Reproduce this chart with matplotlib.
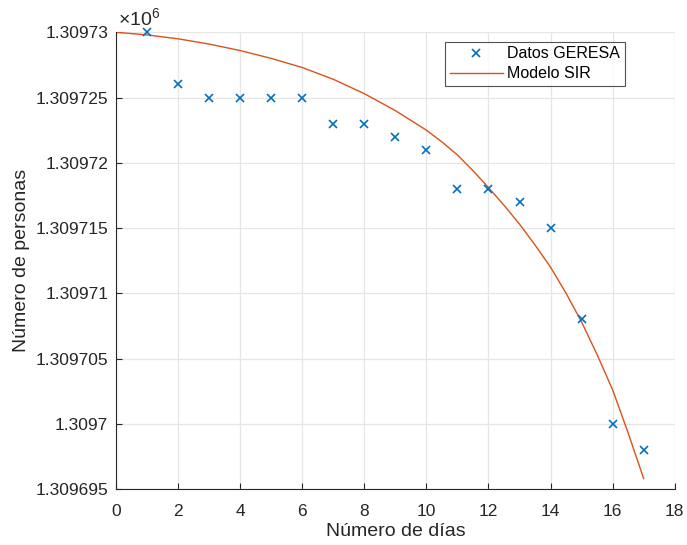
import matplotlib
matplotlib.use("Agg")
import matplotlib.pyplot as plt
from matplotlib.ticker import FuncFormatter, MultipleLocator

plt.rcParams['font.family'] = ['Liberation Sans', 'DejaVu Sans']
plt.rcParams['mathtext.fontset'] = 'custom'
plt.rcParams['mathtext.rm'] = 'Liberation Sans'

# Observed susceptible population (GERESA)
dias = [1, 2, 3, 4, 5, 6, 7, 8, 9, 10, 11, 12, 13, 14, 15, 16, 17]
datos_geresa = [1309730, 1309726, 1309725, 1309725, 1309725, 1309725,
                1309723, 1309723, 1309722, 1309721, 1309718, 1309718,
                1309717, 1309715, 1309708, 1309700, 1309698]

# SIR model susceptible curve
t_modelo = [0, 0.5, 1, 1.5, 2, 2.5, 3, 3.5, 4, 4.5, 5, 5.5, 6, 6.5, 7, 7.5,
            8, 8.5, 9, 9.5, 10, 10.5, 11, 11.5, 12, 12.5, 13, 13.5, 14, 14.5,
            15, 15.5, 16, 16.5, 17]
s_modelo = [1309730.0, 1309729.9, 1309729.8, 1309729.65, 1309729.5, 1309729.3,
            1309729.1, 1309728.85, 1309728.6, 1309728.3, 1309728.0, 1309727.65,
            1309727.3, 1309726.85, 1309726.4, 1309725.85, 1309725.3, 1309724.65,
            1309724.0, 1309723.25, 1309722.5, 1309721.6, 1309720.6, 1309719.4,
            1309718.1, 1309716.75, 1309715.3, 1309713.7, 1309712.0, 1309710.0,
            1309707.8, 1309705.3, 1309702.6, 1309699.3, 1309695.8]

azul = '#0072BD'
naranja = '#D95319'
gris_ejes = '#262626'

fig = plt.figure(figsize=(6.87, 5.45), dpi=100)
ax = fig.add_axes([116 / 687, 1 - 489 / 545, (674.7 - 116) / 687, (489 - 32.3) / 545])

ax.plot(dias, datos_geresa, linestyle='none', marker='x', color=azul,
        markersize=6, markeredgewidth=1.2, label='Datos GERESA', clip_on=False,
        zorder=3)
ax.plot(t_modelo, s_modelo, color=naranja, linewidth=1.0, label='Modelo SIR',
        zorder=2)

ax.set_xlim(0, 18)
ax.set_ylim(1309695, 1309730)
ax.xaxis.set_major_locator(MultipleLocator(2))
ax.yaxis.set_major_locator(MultipleLocator(5))
ax.yaxis.set_major_formatter(FuncFormatter(lambda v, p: '%.7g' % (v / 1e6)))

ax.grid(True, color='#e6e6e6', linewidth=0.9)
ax.set_axisbelow(True)
for s in ('top', 'right'):
    ax.spines[s].set_visible(False)
for s in ('left', 'bottom'):
    ax.spines[s].set_color(gris_ejes)
    ax.spines[s].set_linewidth(0.8)
ax.tick_params(direction='in', length=4, width=0.8, colors=gris_ejes,
               labelsize=12.5)
ax.tick_params(axis='y', pad=5.5)
ax.tick_params(axis='x', pad=10.5)

ax.set_xlabel('Número de días', fontsize=14, color=gris_ejes, labelpad=3)
ax.set_ylabel('Número de personas', fontsize=14, color=gris_ejes, labelpad=4)

ax.text(0.003, 1.004, r'$\times10^{6}$', transform=ax.transAxes, fontsize=14,
        color=gris_ejes, ha='left', va='bottom')

leg = ax.legend(loc='upper right', bbox_to_anchor=(625 / 687, 1 - 41.7 / 545),
                bbox_transform=fig.transFigure, borderaxespad=0, fontsize=11.5,
                frameon=True, fancybox=False, edgecolor=gris_ejes,
                borderpad=0.3, handlelength=3.3, handletextpad=0.3,
                labelspacing=0.3)
leg.get_frame().set_linewidth(0.8)

fig.savefig('out.png', dpi=100)
